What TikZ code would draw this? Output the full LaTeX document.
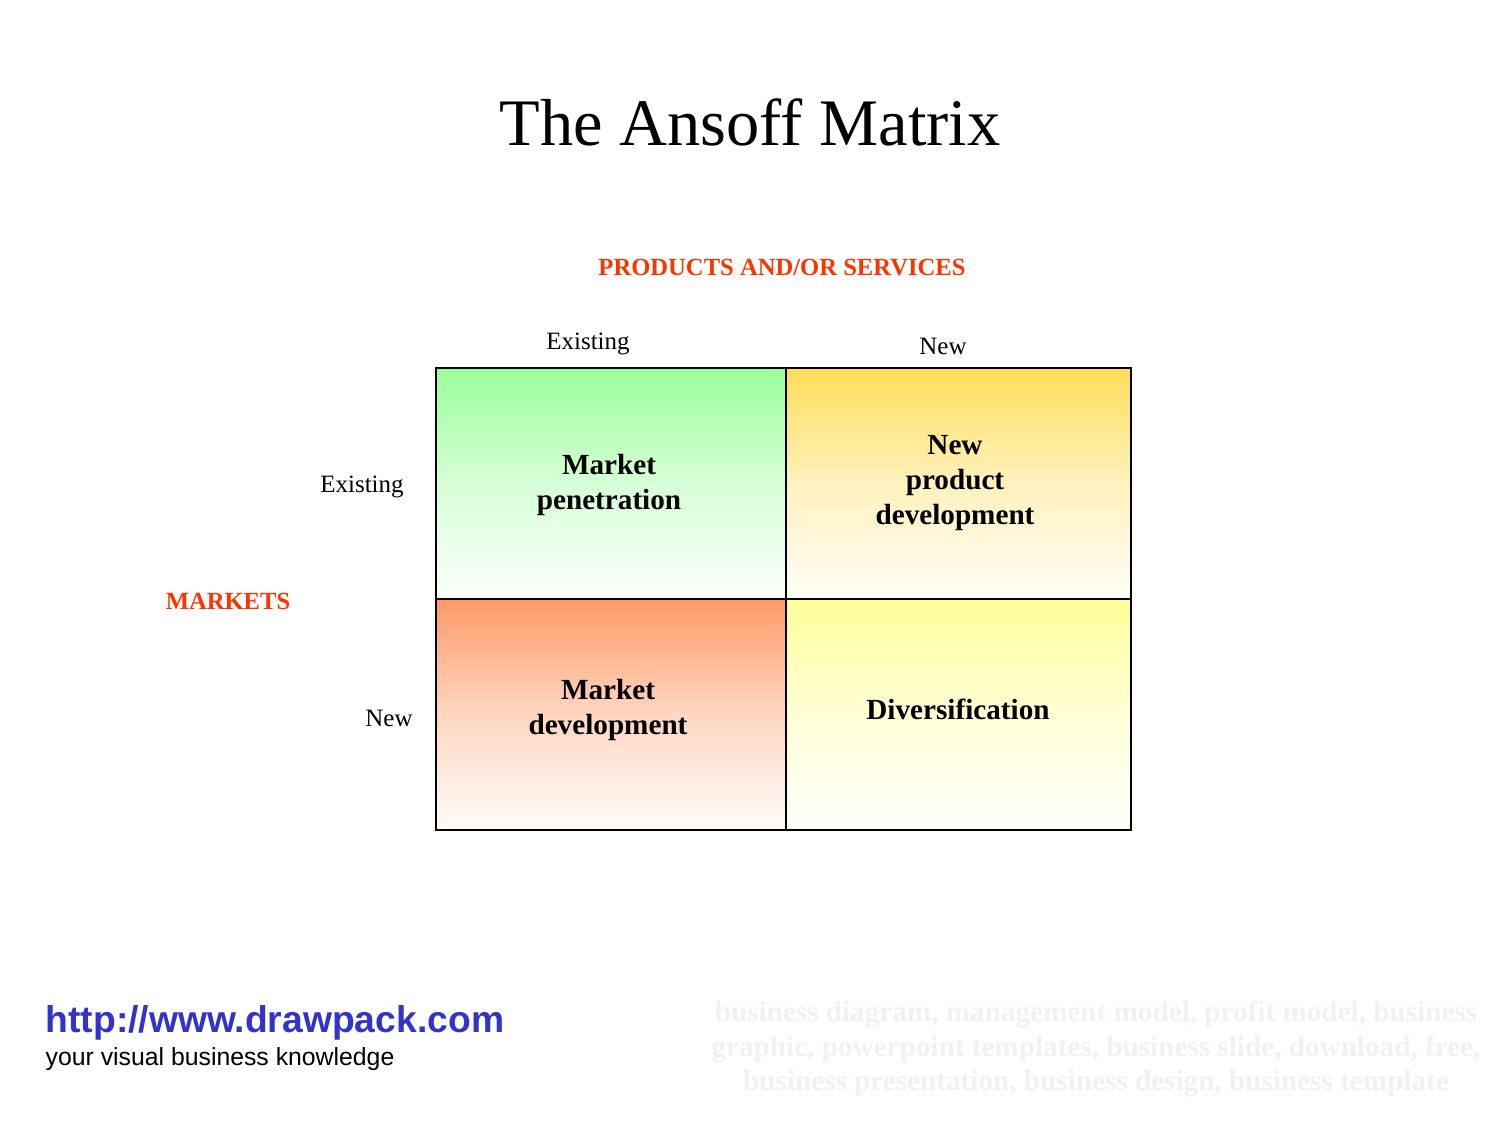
\documentclass[tikz,border=0pt]{standalone}
\usepackage{fontspec}
\setmainfont{Liberation Serif}
\newfontfamily\sansf{Liberation Sans}
\definecolor{gTop}{RGB}{153,255,153}
\definecolor{oTop}{RGB}{255,221,90}
\definecolor{rTop}{RGB}{255,153,102}
\definecolor{yTop}{RGB}{255,255,153}
\definecolor{axisred}{RGB}{255,51,0}
\definecolor{urlblue}{RGB}{51,51,204}
\definecolor{wmgray}{RGB}{241,241,241}
\tikzset{
  cell/.style={draw=black, line width=0.6pt, minimum height=2.31cm, inner sep=0pt},
  celltext/.style={align=center, font=\fontsize{8.3}{10}\selectfont\bfseries, inner sep=0pt},
  axislabel/.style={text=axisred, font=\fontsize{7}{8.4}\selectfont\bfseries, inner sep=0pt},
  catlabel/.style={font=\fontsize{7.1}{8.5}\selectfont, inner sep=0pt}
}
\begin{document}
\begin{tikzpicture}[x=0.01cm,y=-0.01cm]
\useasboundingbox (0,0) rectangle (1500,1125);
\node[inner sep=0pt, font=\fontsize{18.9}{22}\selectfont] (title) at (750,122) {The Ansoff Matrix};
\node[axislabel] (prod) at (782,268) {PRODUCTS AND/OR SERVICES};
\node[axislabel] (mkts) at (228,601) {MARKETS};
\node[catlabel] (colE) at (588,344) {Existing};
\node[catlabel] (colN) at (943,346) {New};
\node[catlabel] (rowE) at (362,487) {Existing};
\node[catlabel] (rowN) at (389,718) {New};
\node[cell, minimum width=3.5cm, top color=gTop, bottom color=gTop!4, middle color=gTop!40] (c11) at (611,483.5) {};
\node[cell, minimum width=3.45cm, top color=oTop, bottom color=oTop!4, middle color=oTop!40] (c12) at (958.5,483.5) {};
\node[cell, minimum width=3.5cm, top color=rTop, bottom color=rTop!4, middle color=rTop!40] (c21) at (611,714.5) {};
\node[cell, minimum width=3.45cm, top color=yTop, bottom color=yTop!4, middle color=yTop!40] (c22) at (958.5,714.5) {};
\node[celltext] (t11) at (609,485) {Market\\penetration};
\node[celltext] (t12) at (955,483) {New\\product\\development};
\node[celltext] (t21) at (608,710) {Market\\development};
\node[celltext] (t22) at (958,709) {Diversification};
\node[anchor=west, inner sep=0pt, text=urlblue, font=\sansf\fontsize{10.6}{12}\selectfont\bfseries] (url) at (45,1023) {http://www.drawpack.com};
\node[anchor=west, inner sep=0pt, font=\sansf\fontsize{7.05}{8.5}\selectfont] (tag) at (45,1059) {your visual business knowledge};
\node[align=center, inner sep=0pt, text=wmgray, font=\fontsize{8.3}{9.9}\selectfont\bfseries] (wm) at (1096,1049) {business diagram, management model, profit model, business\\graphic, powerpoint templates, business slide, download, free,\\business presentation, business design, business template};
\end{tikzpicture}
\end{document}
